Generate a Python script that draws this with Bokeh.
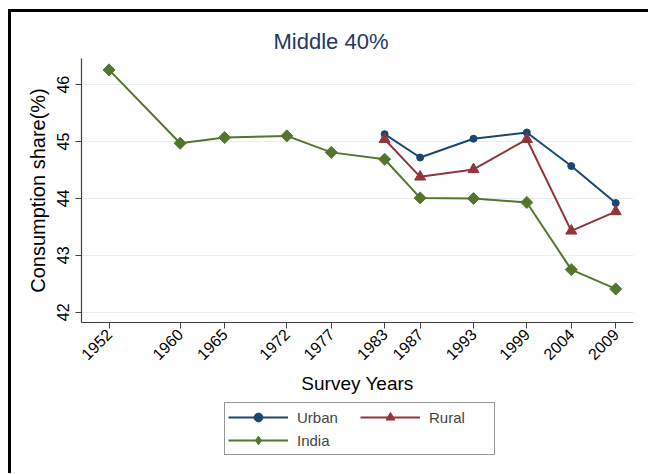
import math

from bokeh.embed import file_html
from bokeh.layouts import column
from bokeh.models import FixedTicker, Legend, LegendItem, Range1d
from bokeh.plotting import figure
from bokeh.resources import INLINE

# Survey rounds and middle-40% consumption shares (%)
years = [1952, 1960, 1965, 1972, 1977, 1983, 1987, 1993, 1999, 2004, 2009]
india = [46.26, 44.97, 45.07, 45.10, 44.81, 44.69, 44.01, 44.00, 43.93, 42.75, 42.41]

sector_years = [1983, 1987, 1993, 1999, 2004, 2009]
urban = [45.13, 44.72, 45.05, 45.16, 44.57, 43.92]
rural = [45.04, 44.38, 44.51, 45.04, 43.43, 43.77]

y_ticks = [42, 43, 44, 45, 46]

FONT = "Liberation Sans"
NAVY = "#1a476f"
MAROON = "#90353b"
FOREST = "#55752f"
AXIS = "#404040"
WIDTH = 637
LEFT = 70

p = figure(
    width=WIDTH,
    height=390,
    x_range=Range1d(1948.9, 2011.0),
    y_range=Range1d(41.82, 46.46),
    output_backend="svg",
    toolbar_location=None,
    min_border_left=LEFT,
    min_border_right=15,
    min_border_top=46,
    min_border_bottom=80,
    title="Middle 40%",
)
p.outline_line_color = None
p.background_fill_color = "white"
p.border_fill_color = "white"

p.title.align = "left"
p.title.offset = 192
p.title.text_font = FONT
p.title.text_font_size = "22px"
p.title.text_font_style = "normal"
p.title.text_color = "#1f3864"

# axes
for ax in (p.xaxis[0], p.yaxis[0]):
    ax.axis_line_color = AXIS
    ax.axis_line_width = 1.2
    ax.major_tick_line_color = AXIS
    ax.major_tick_out = 6
    ax.major_tick_in = 0
    ax.minor_tick_line_color = None
    ax.major_label_text_font = FONT
    ax.major_label_text_font_size = "16px"
    ax.major_label_text_color = "black"
    ax.axis_label_text_font = FONT
    ax.axis_label_text_font_style = "normal"
    ax.axis_label_text_color = "black"

p.xaxis.ticker = FixedTicker(ticks=years)
p.xaxis.major_label_orientation = math.pi / 4
p.xaxis.major_label_standoff = 3
p.xaxis.axis_label = "Survey Years"
p.xaxis.axis_label_text_font_size = "19px"
p.xaxis.axis_label_standoff = 5

p.yaxis.ticker = FixedTicker(ticks=y_ticks)
p.yaxis.major_label_orientation = "vertical"
p.yaxis.major_label_standoff = 6
p.yaxis.axis_label = "Consumption share(%)"
p.yaxis.axis_label_text_font_size = "20px"
p.yaxis.axis_label_standoff = 6

p.xgrid.visible = False
p.ygrid.ticker = FixedTicker(ticks=y_ticks)
p.ygrid.grid_line_color = "#e6eeee"
p.ygrid.grid_line_width = 1


def add_series(fig, xs, ys, color, marker, size, angle=0.0):
    line = fig.line(xs, ys, line_color=color, line_width=2)
    dots = fig.scatter(xs, ys, marker=marker, size=size, angle=angle, color=color)
    return [line, dots]


add_series(p, sector_years, urban, NAVY, "circle", 7)
add_series(p, sector_years, rural, MAROON, "triangle", 11)
add_series(p, years, india, FOREST, "square", 8.5, math.pi / 4)

# key panel under the chart: same series drawn into an empty view so only
# their legend swatches show (legend swatches ignore marker angle, hence
# the diamond marker for India here)
key = figure(
    width=WIDTH,
    height=71,
    x_range=Range1d(0, 1),
    y_range=Range1d(0, 1),
    output_backend="svg",
    toolbar_location=None,
    x_axis_type=None,
    y_axis_type=None,
    min_border=0,
)
key.outline_line_color = None
key.grid.visible = False

k_urban = add_series(key, sector_years, urban, NAVY, "circle", 7)
k_rural = add_series(key, sector_years, rural, MAROON, "triangle", 11)
k_india = add_series(key, years, india, FOREST, "diamond", 12)

# the column lines this frame up with the chart's frame, so offsets are
# measured from the chart's left edge
legend = Legend(
    items=[
        LegendItem(label="Urban", renderers=k_urban),
        LegendItem(label="Rural", renderers=k_rural),
        LegendItem(label="India", renderers=k_india),
    ],
    orientation="horizontal",
    ncols=2,
    location=(213 - LEFT, 18),
    glyph_width=60,
    glyph_height=22,
    label_standoff=9,
    label_width=62,
    spacing=1,
    padding=3,
    margin=0,
    label_text_font=FONT,
    label_text_font_size="15px",
    border_line_color="#333333",
    border_line_width=1,
    background_fill_color="white",
)
key.add_layout(legend, "center")

page = column(
    p,
    key,
    spacing=0,
    styles={
        "border-left": "3px solid black",
        "border-top": "3px solid black",
        "margin-left": "8px",
        "margin-top": "9px",
    },
)

open("out.html", "w").write(file_html(page, INLINE))
